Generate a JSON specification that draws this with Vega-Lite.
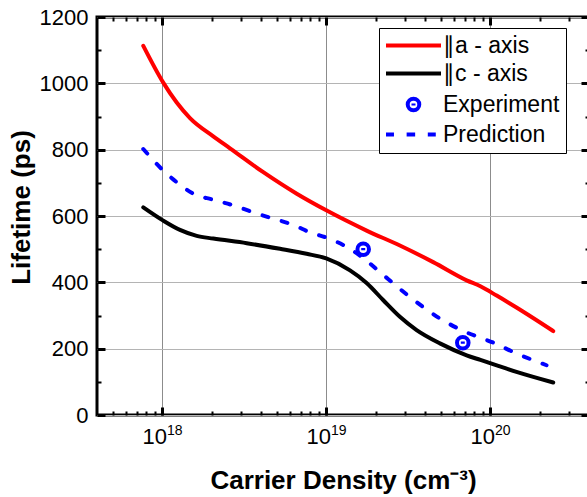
{
  "$schema": "https://vega.github.io/schema/vega-lite/v6.json",
  "width": 492,
  "height": 398,
  "autosize": {"type": "none"},
  "padding": {"left": 97, "top": 17, "right": 0, "bottom": 82},
  "background": "white",
  "config": {
    "view": {"stroke": "black", "strokeWidth": 3},
    "axis": {
      "labelFont": "Liberation Sans",
      "labelFontSize": 22,
      "labelColor": "black",
      "titleFont": "Liberation Sans",
      "titleFontSize": 26,
      "titleFontWeight": "bold",
      "titleColor": "black",
      "domain": false,
      "tickColor": "black",
      "gridColor": "#b4b4b4",
      "gridWidth": 1
    },
    "legend": {
      "labelFont": "Liberation Sans",
      "labelFontSize": 23,
      "labelColor": "black",
      "symbolSize": 121
    }
  },
  "datasets": {
    "curves": [
      {"series": "∥a - axis", "density": 7.66e17, "lifetime": 1113},
      {"series": "∥a - axis", "density": 1.014e18, "lifetime": 1002},
      {"series": "∥a - axis", "density": 1.225e18, "lifetime": 942},
      {"series": "∥a - axis", "density": 1.476e18, "lifetime": 895},
      {"series": "∥a - axis", "density": 2.046e18, "lifetime": 840},
      {"series": "∥a - axis", "density": 2.588e18, "lifetime": 804},
      {"series": "∥a - axis", "density": 4.13e18, "lifetime": 732},
      {"series": "∥a - axis", "density": 6.607e18, "lifetime": 667},
      {"series": "∥a - axis", "density": 1.0e19, "lifetime": 617},
      {"series": "∥a - axis", "density": 1.762e19, "lifetime": 556},
      {"series": "∥a - axis", "density": 2.812e19, "lifetime": 511},
      {"series": "∥a - axis", "density": 4.487e19, "lifetime": 461},
      {"series": "∥a - axis", "density": 7.178e19, "lifetime": 406},
      {"series": "∥a - axis", "density": 8.71e19, "lifetime": 388},
      {"series": "∥a - axis", "density": 1.094e20, "lifetime": 360},
      {"series": "∥a - axis", "density": 1.445e20, "lifetime": 324},
      {"series": "∥a - axis", "density": 2.421e20, "lifetime": 253},
      {"series": "∥c - axis", "density": 7.66e17, "lifetime": 626},
      {"series": "∥c - axis", "density": 1.014e18, "lifetime": 586},
      {"series": "∥c - axis", "density": 1.282e18, "lifetime": 558},
      {"series": "∥c - axis", "density": 1.622e18, "lifetime": 540},
      {"series": "∥c - axis", "density": 2.046e18, "lifetime": 532},
      {"series": "∥c - axis", "density": 3.273e18, "lifetime": 518},
      {"series": "∥c - axis", "density": 5.224e18, "lifetime": 501},
      {"series": "∥c - axis", "density": 7.586e18, "lifetime": 486},
      {"series": "∥c - axis", "density": 1.0e19, "lifetime": 472},
      {"series": "∥c - axis", "density": 1.396e19, "lifetime": 436},
      {"series": "∥c - axis", "density": 1.762e19, "lifetime": 398},
      {"series": "∥c - axis", "density": 2.228e19, "lifetime": 346},
      {"series": "∥c - axis", "density": 2.812e19, "lifetime": 296},
      {"series": "∥c - axis", "density": 3.556e19, "lifetime": 256},
      {"series": "∥c - axis", "density": 4.932e19, "lifetime": 216},
      {"series": "∥c - axis", "density": 7.178e19, "lifetime": 180},
      {"series": "∥c - axis", "density": 8.71e19, "lifetime": 166},
      {"series": "∥c - axis", "density": 1.119e20, "lifetime": 148},
      {"series": "∥c - axis", "density": 1.445e20, "lifetime": 130},
      {"series": "∥c - axis", "density": 2.421e20, "lifetime": 98},
      {"series": "Prediction", "density": 7.66e17, "lifetime": 802},
      {"series": "Prediction", "density": 1.014e18, "lifetime": 737},
      {"series": "Prediction", "density": 1.225e18, "lifetime": 702},
      {"series": "Prediction", "density": 1.549e18, "lifetime": 667},
      {"series": "Prediction", "density": 2.046e18, "lifetime": 649},
      {"series": "Prediction", "density": 2.71e18, "lifetime": 632},
      {"series": "Prediction", "density": 3.589e18, "lifetime": 611},
      {"series": "Prediction", "density": 4.753e18, "lifetime": 592},
      {"series": "Prediction", "density": 6.31e18, "lifetime": 573},
      {"series": "Prediction", "density": 7.943e18, "lifetime": 551},
      {"series": "Prediction", "density": 1.052e19, "lifetime": 531},
      {"series": "Prediction", "density": 1.396e19, "lifetime": 501},
      {"series": "Prediction", "density": 1.683e19, "lifetime": 473},
      {"series": "Prediction", "density": 2.123e19, "lifetime": 431},
      {"series": "Prediction", "density": 3.236e19, "lifetime": 356},
      {"series": "Prediction", "density": 4.932e19, "lifetime": 291},
      {"series": "Prediction", "density": 7.178e19, "lifetime": 249},
      {"series": "Prediction", "density": 8.71e19, "lifetime": 233},
      {"series": "Prediction", "density": 1.047e20, "lifetime": 218},
      {"series": "Prediction", "density": 1.38e20, "lifetime": 190},
      {"series": "Prediction", "density": 2.203e20, "lifetime": 150}
    ],
    "experiment": [
      {"series": "Experiment", "density": 1.68e19, "lifetime": 500},
      {"series": "Experiment", "density": 6.8e19, "lifetime": 218}
    ]
  },
  "layer": [
    {
      "data": {"name": "curves"},
      "transform": [{"filter": "datum.series === '∥a - axis'"}],
      "mark": {"type": "line", "interpolate": "monotone", "strokeCap": "round", "strokeJoin": "round"},
      "encoding": {
        "x": {
          "field": "density", "type": "quantitative",
          "scale": {"type": "log", "domain": [4e17, 4e20], "nice": false},
          "axis": {
            "orient": "bottom",
            "values": [1e18, 1e19, 1e20],
            "labelExpr": "'10'",
            "labelOffset": -8,
            "tickSize": -8, "tickWidth": 3,
            "grid": true, "gridColor": "#8c8c8c",
            "labelPadding": 19,
            "title": "Carrier Density (cm⁻³)",
            "titleX": 246, "titleY": 73, "titleBaseline": "alphabetic"
          }
        },
        "y": {
          "field": "lifetime", "type": "quantitative",
          "scale": {"domain": [0, 1200], "nice": false},
          "axis": {
            "orient": "left",
            "values": [0, 200, 400, 600, 800, 1000, 1200],
            "format": "d",
            "tickSize": -8, "tickWidth": 3,
            "grid": true,
            "labelPadding": 17,
            "title": "Lifetime (ps)",
            "titleX": -68, "titleY": 190, "titleBaseline": "alphabetic"
          }
        },
        "color": {
          "field": "series", "type": "nominal",
          "scale": {
            "domain": ["∥a - axis", "∥c - axis", "Experiment", "Prediction"],
            "range": ["#ff0000", "#000000", "#0000ff", "#0000ff"]
          },
          "legend": {
            "title": null,
            "orient": "none",
            "legendX": 282,
            "legendY": 11,
            "strokeColor": "black",
            "fillColor": "white",
            "padding": 6,
            "rowPadding": 4,
            "symbolOffset": 17,
            "labelOffset": 18
          }
        },
        "strokeWidth": {
          "field": "series", "type": "nominal",
          "scale": {
            "domain": ["∥a - axis", "∥c - axis", "Experiment", "Prediction"],
            "range": [4, 4, 2.5, 4]
          }
        }
      }
    },
    {
      "data": {"name": "curves"},
      "transform": [{"filter": "datum.series === '∥c - axis'"}],
      "mark": {"type": "line", "interpolate": "monotone", "strokeCap": "round", "strokeJoin": "round"},
      "encoding": {
        "x": {
          "field": "density", "type": "quantitative",
          "scale": {"type": "log", "domain": [4e17, 4e20], "nice": false},
          "axis": {
            "orient": "bottom",
            "values": [5e17, 6e17, 7e17, 8e17, 9e17, 1e18, 2e18, 3e18, 4e18, 5e18, 6e18, 7e18, 8e18, 9e18, 1e19, 2e19, 3e19, 4e19, 5e19, 6e19, 7e19, 8e19, 9e19, 1e20, 2e20, 3e20],
            "labelExpr": "datum.value > 9.5e17 && datum.value < 1.05e18 ? '18' : datum.value > 9.5e18 && datum.value < 1.05e19 ? '19' : datum.value > 9.5e19 && datum.value < 1.05e20 ? '20' : ''",
            "labelFontSize": 14,
            "labelOffset": 12,
            "labelPadding": 12,
            "labelOverlap": false,
            "labelFlush": false,
            "grid": false,
            "tickSize": -4, "tickWidth": 2,
            "title": null
          }
        },
        "y": {
          "field": "lifetime", "type": "quantitative",
          "scale": {"domain": [0, 1200], "nice": false},
          "axis": {
            "orient": "left",
            "values": [100, 300, 500, 700, 900, 1100],
            "labels": false, "grid": false,
            "tickSize": -4, "tickWidth": 2,
            "title": null
          }
        },
        "color": {"field": "series", "type": "nominal"},
        "strokeWidth": {"field": "series", "type": "nominal"}
      }
    },
    {
      "data": {"name": "curves"},
      "transform": [{"filter": "datum.series === 'Prediction'"}],
      "mark": {"type": "line", "interpolate": "monotone", "strokeCap": "round", "strokeDash": [6, 14]},
      "encoding": {
        "x": {
          "field": "density", "type": "quantitative",
          "scale": {"type": "log", "domain": [4e17, 4e20], "nice": false},
          "axis": {
            "orient": "top",
            "values": [1e18, 1e19, 1e20],
            "labels": false, "grid": false,
            "tickSize": -8, "tickWidth": 3,
            "title": null
          }
        },
        "y": {
          "field": "lifetime", "type": "quantitative",
          "scale": {"domain": [0, 1200], "nice": false},
          "axis": {
            "orient": "right",
            "values": [0, 200, 400, 600, 800, 1000, 1200],
            "labels": false, "grid": false,
            "tickSize": -8, "tickWidth": 3,
            "title": null
          }
        },
        "color": {"field": "series", "type": "nominal"},
        "strokeWidth": {"field": "series", "type": "nominal"}
      }
    },
    {
      "data": {"name": "experiment"},
      "mark": {"type": "point", "filled": false, "size": 121, "opacity": 1},
      "encoding": {
        "x": {
          "field": "density", "type": "quantitative",
          "scale": {"type": "log", "domain": [4e17, 4e20], "nice": false},
          "axis": {
            "orient": "top",
            "values": [5e17, 6e17, 7e17, 8e17, 9e17, 2e18, 3e18, 4e18, 5e18, 6e18, 7e18, 8e18, 9e18, 2e19, 3e19, 4e19, 5e19, 6e19, 7e19, 8e19, 9e19, 2e20, 3e20],
            "labels": false, "grid": false,
            "tickSize": -4, "tickWidth": 2,
            "title": null
          }
        },
        "y": {
          "field": "lifetime", "type": "quantitative",
          "scale": {"domain": [0, 1200], "nice": false},
          "axis": {
            "orient": "right",
            "values": [100, 300, 500, 700, 900, 1100],
            "labels": false, "grid": false,
            "tickSize": -4, "tickWidth": 2,
            "title": null
          }
        },
        "color": {"field": "series", "type": "nominal"},
        "strokeWidth": {"field": "series", "type": "nominal"},
        "shape": {
          "field": "series", "type": "nominal",
          "scale": {
            "domain": ["∥a - axis", "∥c - axis", "Experiment", "Prediction"],
            "range": [
              "M-5,0L5,0",
              "M-5,0L5,0",
              "M-1.05,0A1.05,1.05 0 1,0 1.05,0A1.05,1.05 0 1,0 -1.05,0M0,-0.2L0,0.2",
              "M-5,0H-3.55M-1.25,0H0.3M2.6,0H4.05"
            ]
          }
        }
      }
    }
  ],
  "resolve": {"axis": {"x": "independent", "y": "independent"}}
}
